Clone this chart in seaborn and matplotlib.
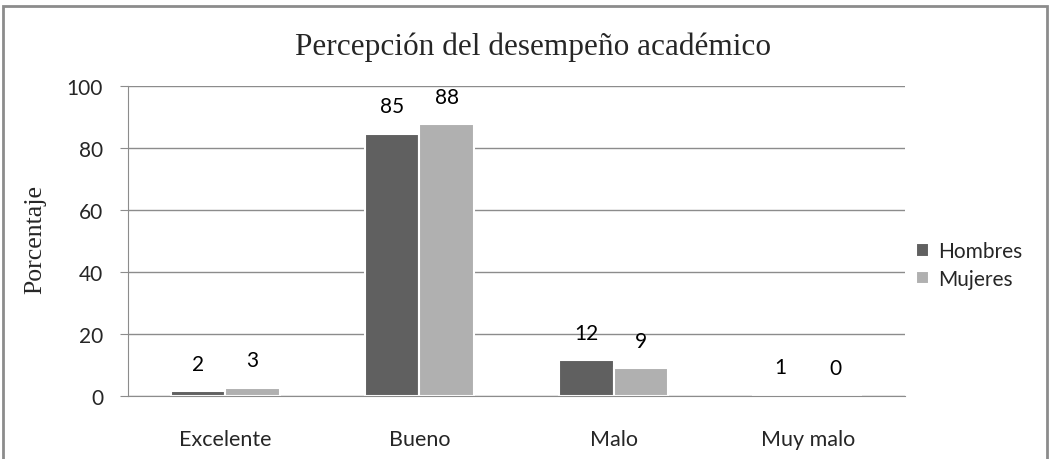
import pandas as pd
import matplotlib.pyplot as plt
import seaborn as sns
from matplotlib.patches import Rectangle

# Datos
categorias = ["Excelente", "Bueno", "Malo", "Muy malo"]
hombres = [1.5, 84.6, 11.5, 0.4]
mujeres = [2.7, 87.6, 8.9, 0.0]
etiquetas_hombres = ["2", "85", "12", "1"]
etiquetas_mujeres = ["3", "88", "9", "0"]
grupos = ["Hombres", "Mujeres"]

df = pd.DataFrame({
    "categoria": categorias * 2,
    "grupo": [grupos[0]] * 4 + [grupos[1]] * 4,
    "valor": hombres + mujeres,
})

sns.set_style("white")
plt.rcParams["font.family"] = ["Lato", "DejaVu Sans"]

fig = plt.figure(figsize=(10.52, 4.6), dpi=100)
ax = fig.add_axes([128 / 1052, 1 - 397 / 460, 777 / 1052, 310 / 460])

sns.barplot(data=df, x="categoria", y="valor", hue="grupo", order=categorias,
            hue_order=grupos, palette=["#606060", "#b0b0b0"], width=0.56,
            edgecolor="white", linewidth=1.5, ax=ax, saturation=1)

# etiquetas de datos
for cont, labs in zip(ax.containers, [etiquetas_hombres, etiquetas_mujeres]):
    for bar, lab in zip(cont, labs):
        ax.annotate(lab, (bar.get_x() + bar.get_width() / 2, bar.get_height()),
                    xytext=(0, 20), textcoords="offset points",
                    ha="center", va="center", fontsize=15, color="black")

ax.set_ylim(0, 100)
ax.set_yticks(range(0, 101, 20))
ax.yaxis.grid(True, color="#8c8c8c", linewidth=1)
ax.set_axisbelow(True)
for s in ["top", "right"]:
    ax.spines[s].set_visible(False)
ax.spines["left"].set_color("#8c8c8c")
ax.spines["bottom"].set_color("#8c8c8c")
ax.tick_params(axis="y", which="major", left=True, length=6, color="#8c8c8c",
               labelsize=15, pad=12)
ax.tick_params(axis="x", bottom=False, labelsize=15.5, pad=20)
ax.set_xlabel("")
ax.set_ylabel("")

fig.text(35 / 1052, 1 - 240 / 460, "Porcentaje", rotation=90, ha="center",
         va="center", fontsize=18.5, family=["Liberation Serif"])
fig.text(533 / 1052, 1 - 47 / 460, "Percepción del desempeño académico",
         ha="center", va="center", fontsize=22.5, family=["Liberation Serif"])

ax.legend(loc="center left", bbox_to_anchor=(908 / 1052, 1 - 266 / 460),
          bbox_transform=fig.transFigure, frameon=False, fontsize=15,
          handlelength=0.6, handleheight=0.6, handletextpad=0.45,
          labelspacing=0.35, borderaxespad=0)

fig.patches.append(Rectangle((3 / 1052, -0.05), 1044 / 1052, 1.05 - 7 / 460,
                             transform=fig.transFigure, fill=False,
                             edgecolor="#8c8c8c", linewidth=2))

fig.savefig("out.png", dpi=100)
